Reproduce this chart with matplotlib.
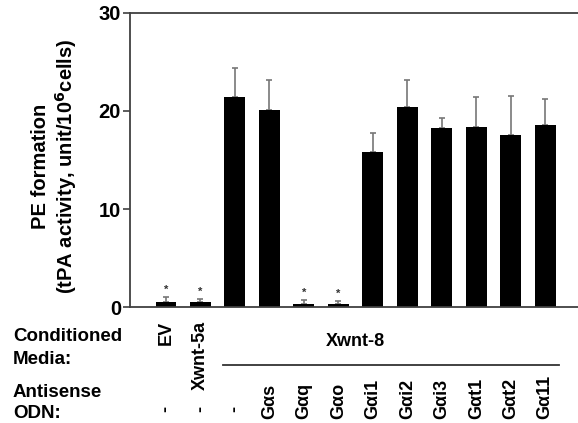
import matplotlib
matplotlib.use("Agg")
import matplotlib.pyplot as plt
import numpy as np

plt.rcParams['font.family'] = ['Liberation Sans', 'DejaVu Sans']
plt.rcParams['font.weight'] = 'bold'
plt.rcParams['mathtext.default'] = 'bf'

media_labels = ["EV", "Xwnt-5a"]
odn_labels = ["-", "-", "-", "G\u03b1s", "G\u03b1q", "G\u03b1o", "G\u03b1i1", "G\u03b1i2",
              "G\u03b1i3", "G\u03b1t1", "G\u03b1t2", "G\u03b111"]
values = [0.5, 0.5, 21.4, 20.1, 0.35, 0.3, 15.8, 20.4, 18.3, 18.4, 17.6, 18.6]
errors = [0.5, 0.3, 3.0, 3.1, 0.35, 0.3, 2.0, 2.8, 0.95, 3.0, 3.9, 2.6]
significant = [True, True, False, False, True, True, False, False, False, False, False, False]
y_ticks = [0, 10, 20, 30]

W, H = 578, 423
fig = plt.figure(figsize=(W / 100, H / 100), dpi=100)
ax = fig.add_axes([130 / W, 1 - 307 / H, 448 / W, 294 / H])

x = np.arange(len(values))
ax.bar(x, values, width=0.6, color='black', zorder=2)
ax.errorbar(x, values, yerr=[np.zeros(len(errors)), errors], fmt='none',
            ecolor='#777777', elinewidth=1.2, capsize=2.5, capthick=1.2, zorder=1)
for xi, v, e, s in zip(x, values, errors, significant):
    if s:
        ax.text(xi, v + e + 0.2, '*', ha='center', va='bottom', fontsize=8, color='#333333')

ax.set_xlim(-1.04, 11.95)
ax.set_ylim(0, 30)
ax.set_yticks(y_ticks)
ax.set_yticklabels([str(t) for t in y_ticks], fontsize=14.5, fontweight='bold')
ax.set_xticks([])
ax.tick_params(axis='y', direction='out', length=5, width=1.2, color='#404040', pad=1.5)
for sp in ['left', 'top', 'bottom']:
    ax.spines[sp].set_color('#404040')
    ax.spines[sp].set_linewidth(1.3)
ax.spines['right'].set_visible(False)

fig.text(55 / W, 1 - 166 / H, "PE formation\n(tPA activity, unit/10$^{6}$cells)",
         rotation=90, ha='center', va='center', multialignment='center',
         fontsize=14.5, fontweight='bold', linespacing=1.2)

tr = ax.get_xaxis_transform()
def yf(p):
    return (307 - p) / 294.0

fs = 13
# Conditioned media row
for i, lab in enumerate(media_labels):
    ax.text(x[i], yf(321), lab, rotation=90, ha='center', va='top', fontsize=fs,
            fontweight='bold', transform=tr, clip_on=False)
ax.text(5.5, yf(346), "Xwnt-8", ha='center', va='baseline', fontsize=fs,
        fontweight='bold', transform=tr, clip_on=False)
ax.plot([1.66, 11.4], [yf(365), yf(365)], color='#333333', lw=1.3,
        transform=tr, clip_on=False)

# Antisense ODN row
for i, lab in enumerate(odn_labels):
    if lab == "-":
        ax.text(x[i], yf(409), "-", rotation=90, ha='center', va='center', fontsize=fs,
                fontweight='bold', transform=tr, clip_on=False)
    else:
        ax.text(x[i], yf(419), lab, rotation=90, ha='center', va='bottom', fontsize=fs,
                fontweight='bold', transform=tr, clip_on=False)

for txt, base in [("Conditioned", 341), ("Media:", 364), ("Antisense", 397), ("ODN:", 418)]:
    fig.text(13 / W, 1 - base / H, txt, ha='left', va='baseline',
             fontsize=13.5, fontweight='bold')

fig.savefig("out.png", dpi=100)
